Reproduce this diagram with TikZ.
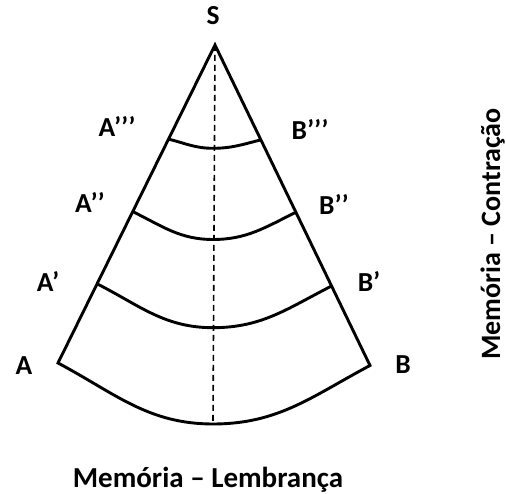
\documentclass[tikz,border=0pt]{standalone}
\usepackage{fontspec}
\setmainfont{Carlito}
\usetikzlibrary{calc}
\begin{document}
\begin{tikzpicture}[x=1pt,y=1pt,
  edge/.style={line width=2.9pt},
  axisline/.style={line width=1.6pt, dash pattern=on 6pt off 4pt},
  lbl/.style={font=\fontsize{27.5}{30}\selectfont\bfseries, anchor=base, inner sep=0pt},
  ttl/.style={font=\fontsize{29}{32}\selectfont\bfseries, anchor=base, inner sep=0pt}]
\useasboundingbox (0,0) rectangle (506,494);
\coordinate (S) at (215,449);
\coordinate (A) at (58,131);
\coordinate (B) at (370,128.5);
\coordinate (M0) at (213,70);
\coordinate (A1) at ($(S)!0.751!(A)$);
\coordinate (B1) at ($(S)!0.752!(B)$);
\coordinate (M1) at (213,166.3);
\coordinate (A2) at ($(S)!0.524!(A)$);
\coordinate (B2) at ($(S)!0.522!(B)$);
\coordinate (M2) at (213,254.5);
\coordinate (A3) at ($(S)!0.296!(A)$);
\coordinate (B3) at ($(S)!0.296!(B)$);
\coordinate (M3) at (213,345.7);
\draw[axisline] (S) -- (M0);
\draw[edge] (S) -- (A) to[out=-28,in=180] (M0) to[out=0,in=-152] (B) -- cycle;
\draw[edge] (A1) to[out=-27,in=180] (M1) to[out=0,in=-153] (B1);
\draw[edge] (A2) to[out=-26,in=180] (M2) to[out=0,in=-154] (B2);
\draw[edge] (A3) to[out=-14,in=180] (M3) to[out=0,in=-166] (B3);
\node[lbl] (lS) at (213,469) {S};
\node[lbl] (lA3) at (117,357) {A’’’};
\node[lbl] (lB3) at (310,354) {B’’’};
\node[lbl] (lA2) at (90,281) {A’’};
\node[lbl] (lB2) at (334,279) {B’’};
\node[lbl] (lA1) at (48,202) {A’};
\node[lbl] (lB1) at (369,202) {B’};
\node[lbl] (lA) at (24,119) {A};
\node[lbl] (lB) at (403,120) {B};
\node[ttl] (bottom) at (208,6) {Memória – Lembrança};
\node[ttl, font=\fontsize{28}{31}\selectfont\bfseries, rotate=90] (right) at (500,260) {Memória – Contração};
\end{tikzpicture}
\end{document}
